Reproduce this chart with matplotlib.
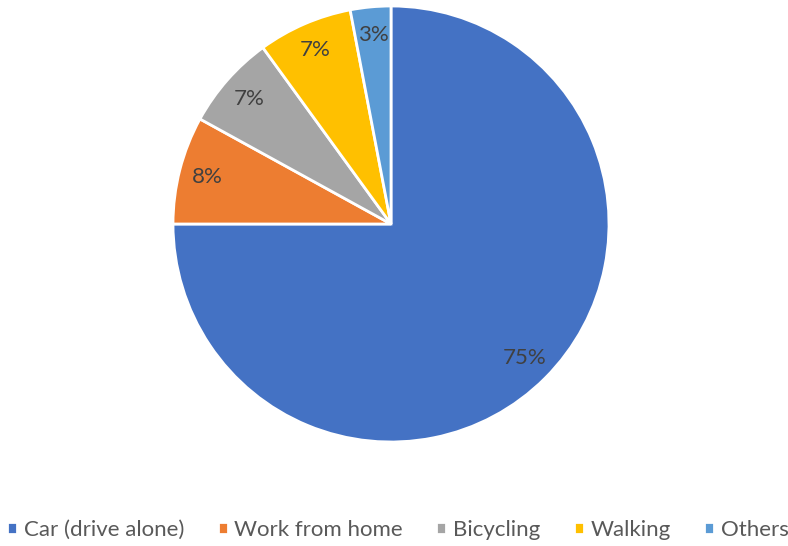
import matplotlib.pyplot as plt

labels = ['Car (drive alone)', 'Work from home', 'Bicycling', 'Walking', 'Others']
shares = [75, 8, 7, 7, 3]
colors = ['#4472C4', '#ED7D31', '#A5A5A5', '#FFC000', '#5B9BD5']

plt.rcParams['font.family'] = ['Lato', 'DejaVu Sans']

fig = plt.figure(figsize=(7.88, 5.46), dpi=100)
ax = fig.add_axes([173 / 788, 104 / 546, 436 / 788, 436 / 546])

wedges, texts, autotexts = ax.pie(
    shares, colors=colors, startangle=90, counterclock=False,
    autopct='%d%%', pctdistance=0.87, radius=1,
    wedgeprops=dict(edgecolor='white', linewidth=2),
    textprops=dict(color='#404040', fontsize=16))
ax.set_xlim(-1, 1)
ax.set_ylim(-1, 1)
ax.set_aspect('equal')

fig.legend(wedges, labels, loc='center', bbox_to_anchor=(0.505, 16 / 546),
           ncol=5, frameon=False, fontsize=16, handlelength=0.45,
           handleheight=0.45, handletextpad=0.3, columnspacing=1.5,
           labelcolor='#595959')

fig.savefig('out.png', dpi=100)
